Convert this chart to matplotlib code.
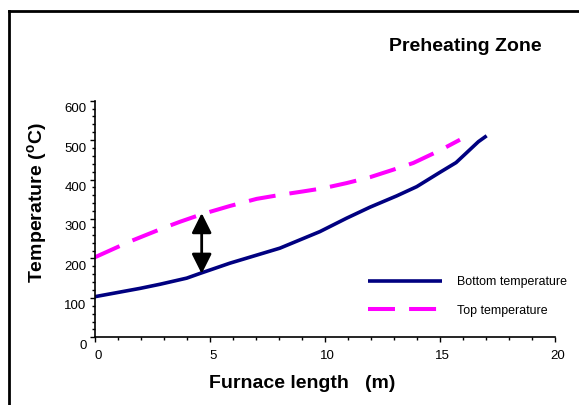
import matplotlib.pyplot as plt
import matplotlib.transforms as mtransforms
from matplotlib.lines import Line2D
from matplotlib.ticker import MultipleLocator

plt.rcParams['font.family'] = ['Liberation Sans', 'DejaVu Sans']
plt.rcParams['mathtext.fontset'] = 'custom'
plt.rcParams['mathtext.rm'] = 'Liberation Sans'
plt.rcParams['mathtext.bf'] = 'Liberation Sans:bold'

# data
bottom_x = [0, 1.96, 2.83, 3.99, 4.57, 5.87, 8.04, 9.78, 10.94, 11.96, 13.12, 13.99, 14.99, 15.7, 16.14, 16.67, 17.03]
bottom_t = [103, 124, 134.5, 150, 162, 188, 226, 268, 302, 330, 358.6, 382, 418, 443, 467, 496, 511]

top_x = [0, 1.52, 2.97, 3.7, 4.64, 5.87, 7.03, 8.04, 9.06, 9.93, 10.94, 11.96, 12.97, 13.84, 15.0, 15.87]
top_t = [203, 243, 277, 293, 312, 333, 351, 361, 370, 378, 391, 406, 425, 442, 474, 501]

# double arrow between the two curves
arrow_x = 4.64
arrow_low = 161
arrow_high = 315

x_ticks = [0, 5, 10, 15, 20]
y_ticks = [0, 100, 200, 300, 400, 500, 600]

fig = plt.figure(figsize=(5.79, 4.05), dpi=100)
ax = fig.add_axes([0.164, 0.1672, 0.7945, 0.5842])

ax.plot(bottom_x, bottom_t, color='#000080', lw=2.6, label='Bottom temperature', solid_capstyle='butt')
ax.plot(top_x, top_t, color='#FF00FF', lw=2.9, dashes=(6.7, 3.5), label='Top temperature')

ax.annotate('', xy=(arrow_x, arrow_low), xytext=(arrow_x, arrow_high),
            arrowprops=dict(arrowstyle='<|-|>,head_length=0.6,head_width=0.3',
                            color='black', lw=2, mutation_scale=20,
                            shrinkA=0, shrinkB=0))

ax.set_xlim(0, 20)
ax.set_ylim(0, 600)
ax.set_xticks(x_ticks)
ax.set_yticks(y_ticks)
ax.xaxis.set_minor_locator(MultipleLocator(1))
ax.yaxis.set_minor_locator(MultipleLocator(20))

for side in ['top', 'right']:
    ax.spines[side].set_visible(False)
for side in ['left', 'bottom']:
    ax.spines[side].set_linewidth(1.2)

ax.tick_params(which='major', direction='out', length=3.5, width=1, labelsize=9.5, colors='black')
ax.tick_params(which='minor', direction='out', length=2.5, width=1)
ax.tick_params(axis='y', pad=2.5)
ax.tick_params(axis='x', pad=6)

# tick labels in the original sit a bit below/right of their ticks
for lab in ax.get_yticklabels():
    lab.set_transform(lab.get_transform() + mtransforms.ScaledTranslation(0, -5 / 72, fig.dpi_scale_trans))
for lab in ax.get_xticklabels():
    lab.set_transform(lab.get_transform() + mtransforms.ScaledTranslation(2 / 72, 0, fig.dpi_scale_trans))

ax.set_xlabel('Furnace length   (m)', fontsize=14, fontweight='bold')
ax.xaxis.set_label_coords(0.45, -0.16)
ax.set_ylabel(r'Temperature ($\mathbf{^o}$C)', fontsize=14, fontweight='bold')
ax.yaxis.set_label_coords(-0.1, 0.567)

fig.text(0.803, 0.884, 'Preheating Zone', fontsize=14, fontweight='bold', ha='center', va='center')

leg = ax.legend(loc='lower right', bbox_to_anchor=(1.05, 0.04), frameon=False, fontsize=8.9,
                handlelength=6.0, handletextpad=1.2, labelspacing=1.35)

# outer frame (left and top edges visible)
fig.add_artist(Line2D([9 / 579, 9 / 579], [0, 1 - 11 / 405], transform=fig.transFigure, color='black', lw=2))
fig.add_artist(Line2D([9 / 579, 1], [1 - 11 / 405, 1 - 11 / 405], transform=fig.transFigure, color='black', lw=2))

fig.savefig('out.png', dpi=100)
